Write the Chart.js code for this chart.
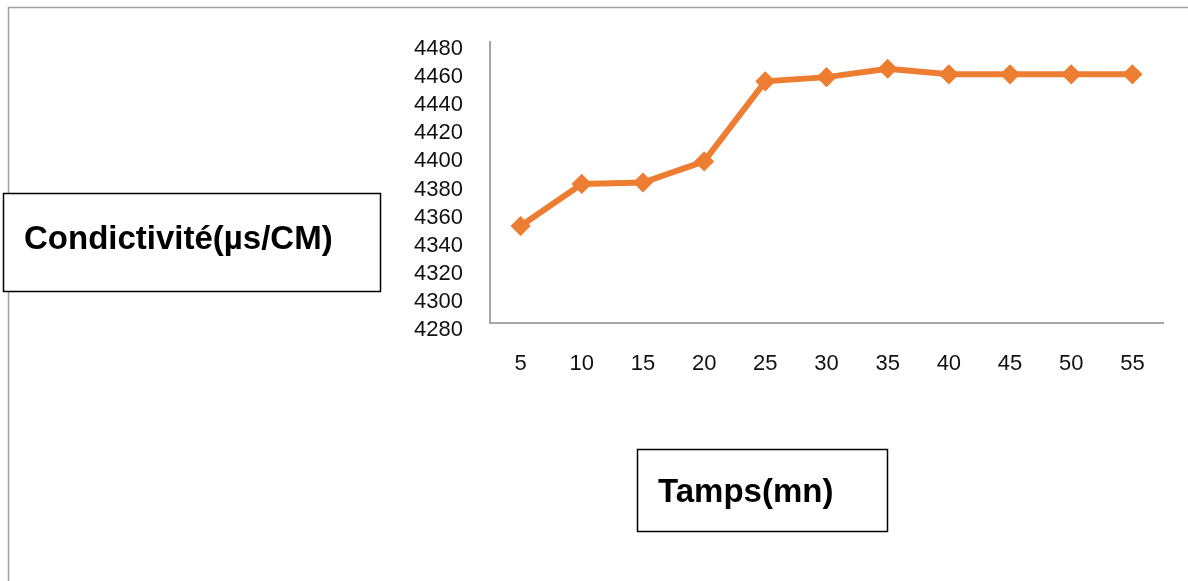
<!DOCTYPE html>
<html>
<head>
<meta charset="utf-8">
<title>Condictivité</title>
<script src="https://cdn.jsdelivr.net/npm/chart.js@4/dist/chart.umd.min.js"></script>
<style>
  html, body { margin: 0; padding: 0; background: #fff; }
  canvas { display: block; }
</style>
</head>
<body>
<canvas id="myChart" width="1188" height="581"></canvas>
<script>
//---------------------------------------------------------------------------
// data: conductivity readings over time
const temps = ['5', '10', '15', '20', '25', '30', '35', '40', '45', '50', '55'];
const conductivite = [4349, 4379, 4380, 4395, 4452, 4455, 4461, 4457, 4457, 4457, 4457];
const yMin = 4280;
const yMax = 4480;
const yStep = 20;

const titreY = 'Condictivité(µs/CM)';
const titreX = 'Tamps(mn)';

const ORANGE = '#ED7D31';
const AXIS_GREY = '#a6a6a6';
const FONT = '"Liberation Sans", Arial, sans-serif';
//---------------------------------------------------------------------------
// outer frame + the two boxed axis titles
const boxesPlugin = {
    id: 'boxes',
    afterDraw(chart) {
        const ctx = chart.ctx;
        ctx.save();
        // chart frame (only left and top edges are visible)
        ctx.strokeStyle = '#a0a0a0';
        ctx.lineWidth = 1.5;
        ctx.beginPath();
        ctx.moveTo(8.5, 581);
        ctx.lineTo(8.5, 7.5);
        ctx.lineTo(1188, 7.5);
        ctx.stroke();

        // title boxes
        ctx.fillStyle = '#fff';
        ctx.strokeStyle = '#000';
        ctx.lineWidth = 1.5;
        ctx.fillRect(3, 193, 378, 99);
        ctx.strokeRect(3.5, 193.5, 377, 98);
        ctx.fillRect(637, 449, 251, 83);
        ctx.strokeRect(637.5, 449.5, 250, 82);

        ctx.fillStyle = '#000';
        ctx.font = 'bold 33px ' + FONT;
        ctx.textBaseline = 'alphabetic';
        ctx.textAlign = 'left';
        ctx.fillText(titreY, 24, 249);
        ctx.fillText(titreX, 658, 502);
        ctx.restore();
    }
};
//---------------------------------------------------------------------------
const ctx = document.getElementById('myChart');
ctx.getContext('2d');

new Chart(ctx, {
    type: 'line',
    data: {
        labels: temps,
        datasets: [{
            label: titreY,
            data: conductivite,
            borderColor: ORANGE,
            backgroundColor: ORANGE,
            borderWidth: 6,
            tension: 0,
            fill: false,
            pointStyle: 'rectRot',
            pointRadius: 9,
            pointBorderWidth: 1.5,
            pointBackgroundColor: ORANGE,
            pointBorderColor: ORANGE
        }]
    },
    options: {
        responsive: false,
        animation: false,
        devicePixelRatio: 1,
        layout: {
            padding: { left: 0, right: 25, top: 42, bottom: 0 }
        },
        plugins: {
            legend: { display: false },
            title: { display: false },
            tooltip: { enabled: false }
        },
        scales: {
            x: {
                offset: true,
                grid: { display: false, drawTicks: false },
                border: { display: true, color: AXIS_GREY, width: 2 },
                ticks: {
                    color: '#111',
                    padding: 28,
                    maxRotation: 0,
                    autoSkip: false,
                    font: { family: FONT, size: 22 }
                },
                afterFit: (scale) => { scale.height = 258; }
            },
            y: {
                min: yMin,
                max: yMax,
                grid: { display: false, drawTicks: false },
                border: { display: true, color: AXIS_GREY, width: 2 },
                ticks: {
                    stepSize: yStep,
                    autoSkip: false,
                    color: '#111',
                    padding: 27,
                    labelOffset: 7,
                    font: { family: FONT, size: 22 },
                    callback: (v) => String(v)
                },
                afterFit: (scale) => { scale.width = 490; }
            }
        }
    },
    plugins: [boxesPlugin]
});
</script>
</body>
</html>
